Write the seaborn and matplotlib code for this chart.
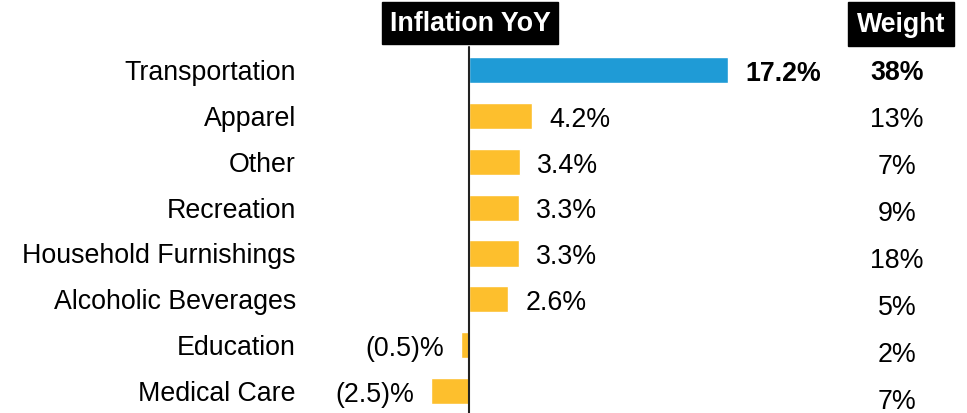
import matplotlib.pyplot as plt
import seaborn as sns
import pandas as pd

sns.set_style('white')
plt.rcParams['font.family'] = ['Liberation Sans', 'DejaVu Sans']
plt.rcParams['text.color'] = 'black'

categories = ['Transportation', 'Apparel', 'Other', 'Recreation',
              'Household Furnishings', 'Alcoholic Beverages', 'Education', 'Medical Care']
inflation = [17.2, 4.2, 3.4, 3.3, 3.3, 2.6, -0.5, -2.5]
weights = [38, 13, 7, 9, 18, 5, 2, 7]

BLUE = '#1f9bd6'
YELLOW = '#fdbf2d'
colors = [BLUE] + [YELLOW] * (len(categories) - 1)

df = pd.DataFrame({'category': categories, 'inflation': inflation})

W, H = 967, 414
fig = plt.figure(figsize=(W / 100, H / 100), dpi=100)
ax = fig.add_axes([0, 0, 1, 1])

sns.barplot(data=df, x='inflation', y='category', hue='category', palette=colors,
            legend=False, width=0.57, ax=ax, orient='h', saturation=1)

# pixel mapping: zero at x=469, 15.06 px per percent; row 0 at y=71, 45.86 px per row
px_per = 15.06
x0 = 469
ax.set_xlim(-x0 / px_per, (W - x0) / px_per)
row_h = 45.86
ax.set_ylim((H - 71) / row_h, -71 / row_h)
ax.axis('off')

ax.axvline(0, ymin=0, ymax=(H - 48) / H, color='#222222', lw=1.5)

fs = 19.3
gap = 17 / px_per
dy = 2 / row_h
for i, (cat, v) in enumerate(zip(categories, inflation)):
    bold = 'bold' if i == 0 else 'normal'
    ax.text((296 - x0) / px_per, i + dy, cat, ha='right', va='center', fontsize=fs)
    lab = f'{v:.1f}%' if v >= 0 else f'({abs(v):.1f})%'
    if v >= 0:
        ax.text(v + gap, i + dy + 0.02, lab, ha='left', va='center', fontsize=fs, fontweight=bold)
    else:
        ax.text(v - gap, i + dy + 0.02, lab, ha='right', va='center', fontsize=fs, fontweight=bold)

for i, w in enumerate(weights):
    bold = 'bold' if i == 0 else 'normal'
    fig.text(897 / W, 1 - (73 + 47 * i) / H, f'{w}%', ha='center', va='center',
             fontsize=fs, fontweight=bold)

# header boxes
fig.text(470 / W, 1 - 24 / H, 'Inflation YoY', ha='center', va='center', fontsize=fs,
         fontweight='bold', color='white',
         bbox=dict(boxstyle='square,pad=0.28', fc='black', ec='black'))
fig.text(901 / W, 1 - 25 / H, 'Weight', ha='center', va='center', fontsize=fs,
         fontweight='bold', color='white',
         bbox=dict(boxstyle='square,pad=0.32', fc='black', ec='black'))

fig.savefig('out.png', dpi=100)
